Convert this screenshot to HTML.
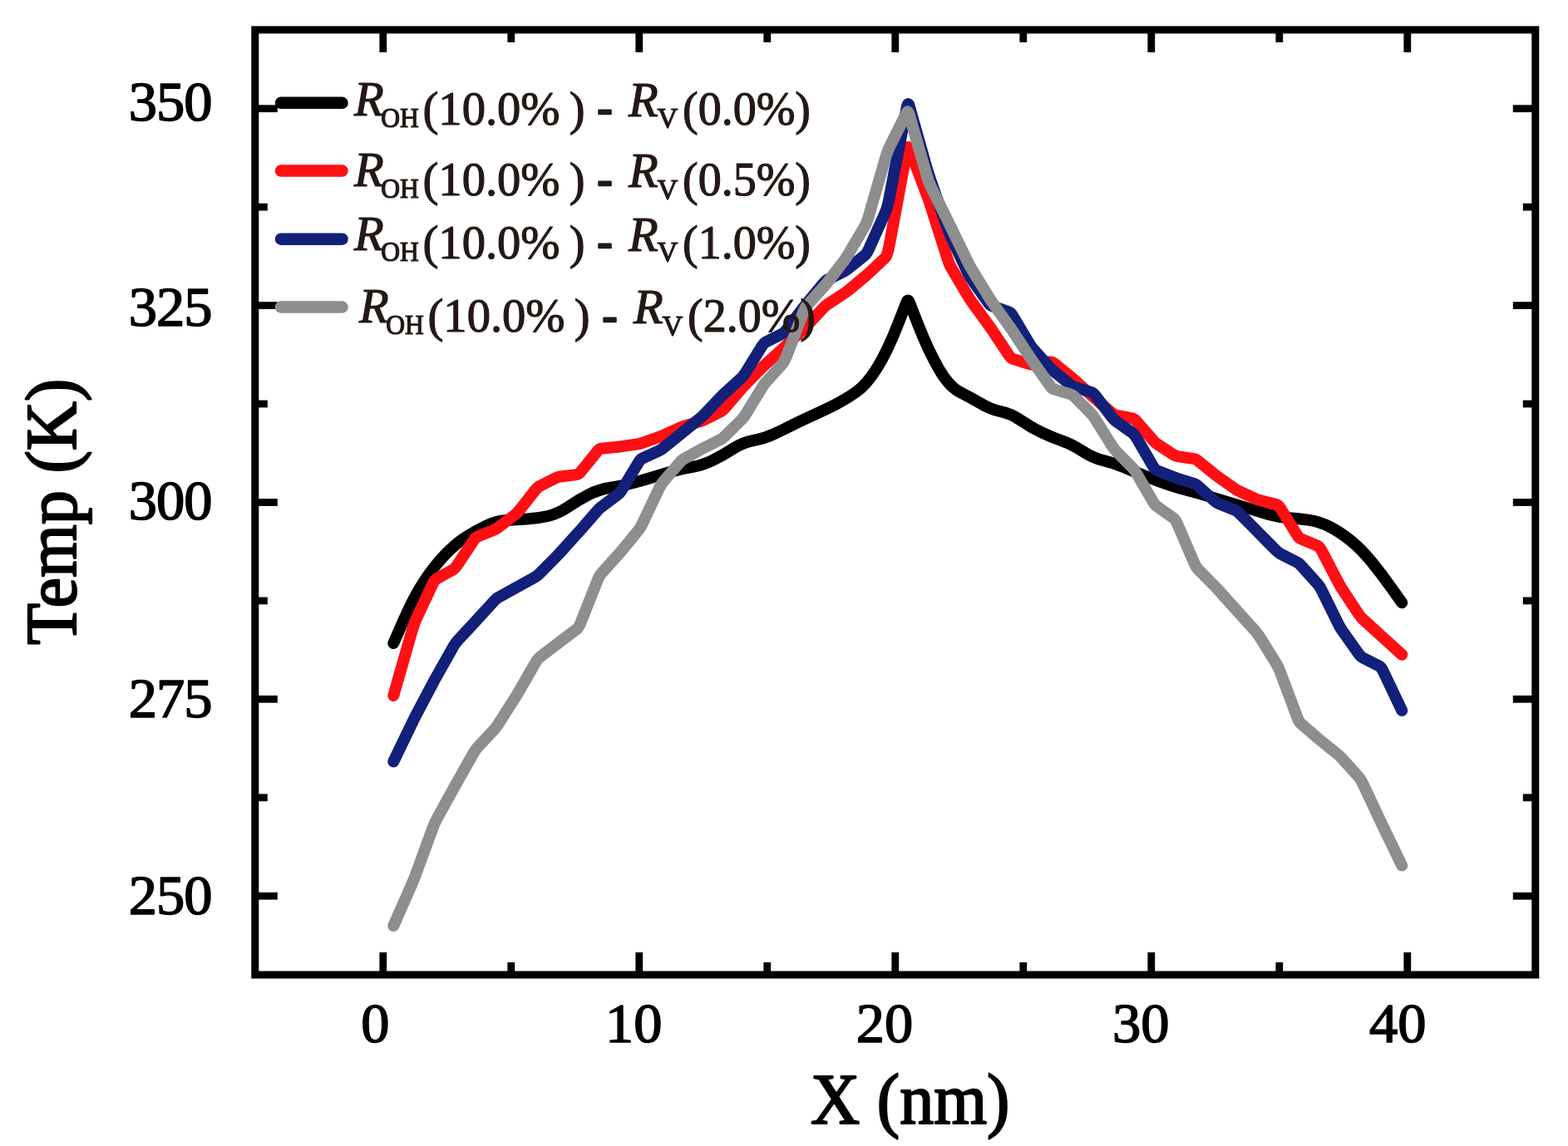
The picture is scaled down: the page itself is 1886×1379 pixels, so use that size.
<!DOCTYPE html>
<html lang="en"><head><meta charset="utf-8"><title>Temperature profile</title>
<style>
html,body{margin:0;padding:0;background:#fff;}
body{width:1886px;height:1379px;overflow:hidden;}
svg{display:block;filter:blur(0.75px);}
text{font-family:"Liberation Serif","DejaVu Serif",serif;stroke-linejoin:round;paint-order:stroke fill;}
.tick{font-size:68.5px;fill:#000;stroke:#000;stroke-width:1.6px;}
.axl{font-size:86px;fill:#000;stroke:#000;stroke-width:2.2px;}
.lg{fill:#231815;stroke:#231815;stroke-width:1.2px;font-size:58px;}
.it{font-style:italic;font-size:58.5px;}
.sub{font-size:34.5px;}
.hy{stroke-width:2.6px;font-size:54px;}
.c{fill:none;stroke-width:14;stroke-linejoin:round;stroke-linecap:round;}
</style></head><body>
<svg width="1886" height="1379" viewBox="0 0 1886 1379">
<rect x="0" y="0" width="1886" height="1379" fill="#fff"/>
<g stroke="#000" stroke-width="8.8" stroke-linecap="butt">
<line x1="460.8" y1="1173.0" x2="460.8" y2="1146.0"/>
<line x1="460.8" y1="35.9" x2="460.8" y2="62.9"/>
<line x1="614.8" y1="1173.0" x2="614.8" y2="1158.0"/>
<line x1="614.8" y1="35.9" x2="614.8" y2="50.9"/>
<line x1="768.8" y1="1173.0" x2="768.8" y2="1146.0"/>
<line x1="768.8" y1="35.9" x2="768.8" y2="62.9"/>
<line x1="922.8" y1="1173.0" x2="922.8" y2="1158.0"/>
<line x1="922.8" y1="35.9" x2="922.8" y2="50.9"/>
<line x1="1076.8" y1="1173.0" x2="1076.8" y2="1146.0"/>
<line x1="1076.8" y1="35.9" x2="1076.8" y2="62.9"/>
<line x1="1230.8" y1="1173.0" x2="1230.8" y2="1158.0"/>
<line x1="1230.8" y1="35.9" x2="1230.8" y2="50.9"/>
<line x1="1384.8" y1="1173.0" x2="1384.8" y2="1146.0"/>
<line x1="1384.8" y1="35.9" x2="1384.8" y2="62.9"/>
<line x1="1538.8" y1="1173.0" x2="1538.8" y2="1158.0"/>
<line x1="1538.8" y1="35.9" x2="1538.8" y2="50.9"/>
<line x1="1692.8" y1="1173.0" x2="1692.8" y2="1146.0"/>
<line x1="1692.8" y1="35.9" x2="1692.8" y2="62.9"/>
<line x1="306.8" y1="1078.2" x2="333.8" y2="1078.2"/>
<line x1="1846.8" y1="1078.2" x2="1819.8" y2="1078.2"/>
<line x1="306.8" y1="959.8" x2="321.8" y2="959.8"/>
<line x1="1846.8" y1="959.8" x2="1831.8" y2="959.8"/>
<line x1="306.8" y1="841.3" x2="333.8" y2="841.3"/>
<line x1="1846.8" y1="841.3" x2="1819.8" y2="841.3"/>
<line x1="306.8" y1="722.9" x2="321.8" y2="722.9"/>
<line x1="1846.8" y1="722.9" x2="1831.8" y2="722.9"/>
<line x1="306.8" y1="604.5" x2="333.8" y2="604.5"/>
<line x1="1846.8" y1="604.5" x2="1819.8" y2="604.5"/>
<line x1="306.8" y1="486.0" x2="321.8" y2="486.0"/>
<line x1="1846.8" y1="486.0" x2="1831.8" y2="486.0"/>
<line x1="306.8" y1="367.6" x2="333.8" y2="367.6"/>
<line x1="1846.8" y1="367.6" x2="1819.8" y2="367.6"/>
<line x1="306.8" y1="249.1" x2="321.8" y2="249.1"/>
<line x1="1846.8" y1="249.1" x2="1831.8" y2="249.1"/>
<line x1="306.8" y1="130.7" x2="333.8" y2="130.7"/>
<line x1="1846.8" y1="130.7" x2="1819.8" y2="130.7"/>
</g>
<rect x="306.8" y="35.9" width="1540.0" height="1137.1" fill="none" stroke="#000" stroke-width="9"/>
<g class="tick" text-anchor="end" letter-spacing="-1">
<text x="254.5" y="144.6">350</text>
<text x="254.5" y="392.4">325</text>
<text x="254.5" y="625.0">300</text>
<text x="254.5" y="862.6">275</text>
<text x="254.5" y="1099.6">250</text>
</g>
<g class="tick" text-anchor="middle">
<text x="451.3" y="1254">0</text>
<text x="762.3" y="1254">10</text>
<text x="1064.1" y="1254">20</text>
<text x="1372.2" y="1254">30</text>
<text x="1681.2" y="1254">40</text>
</g>
<text class="axl" text-anchor="middle" transform="translate(1094.7,1352) scale(0.955,1)">X (nm)</text>
<text class="axl" text-anchor="middle" transform="translate(90.5,615.8) rotate(-90) scale(0.955,1)">Temp (K)</text>
<path id="c0" class="c" stroke="#000000" d="M473.3 774.0L485.7 745.9Q498.1 717.7 510.4 699.2L510.4 699.2Q522.8 680.6 535.2 667.7L535.2 667.7Q547.6 654.7 559.9 646.7L559.9 646.7Q572.3 638.6 584.7 632.8L584.7 632.8Q597.1 626.9 609.4 626.0L609.4 626.0Q621.8 625.1 634.2 624.5L634.2 624.5Q646.6 623.9 658.9 621.0L658.9 621.0Q671.3 618.1 683.7 609.7L683.7 609.7Q696.1 601.3 708.5 595.0L708.5 595.0Q720.8 588.8 733.2 587.0L733.2 587.0Q745.6 585.1 758.0 582.0L758.0 582.0Q770.3 578.8 782.7 575.0L782.7 575.0Q795.1 571.3 807.5 567.5L807.5 567.5Q819.8 563.8 832.2 562.0L832.2 562.0Q844.6 560.1 857.0 554.0L857.0 554.0Q869.3 548.0 881.7 540.0L881.7 540.0Q894.1 532.0 906.5 530.0L906.5 530.0Q918.9 528.0 931.2 522.2L931.2 522.2Q943.6 516.4 956.0 510.1L956.0 510.1Q968.4 503.9 980.7 498.3L980.7 498.3Q993.1 492.7 1005.5 486.4L1005.5 486.4Q1017.9 480.2 1030.2 471.4L1030.2 471.4Q1042.6 462.6 1055.0 442.6L1055.0 442.6Q1067.4 422.6 1079.7 391.1L1090.6 363.3Q1092.1 359.5 1093.6 363.3L1104.5 391.1Q1116.9 422.6 1129.3 443.9L1129.3 443.9Q1141.6 465.1 1154.0 471.4L1154.0 471.4Q1166.4 477.6 1178.8 485.1L1178.8 485.1Q1191.1 492.7 1203.5 495.2L1203.5 495.2Q1215.9 497.7 1228.3 506.1L1228.3 506.1Q1240.6 514.5 1253.0 520.4L1253.0 520.4Q1265.4 526.3 1277.8 530.6L1277.8 530.6Q1290.1 535.0 1302.5 543.2L1302.5 543.2Q1314.9 551.4 1327.3 554.2L1327.3 554.2Q1339.7 557.0 1352.0 562.3L1352.0 562.3Q1364.4 567.6 1376.8 572.6L1376.8 572.6Q1389.2 577.6 1401.5 582.0L1401.5 582.0Q1413.9 586.3 1426.3 589.5L1426.3 589.5Q1438.7 592.6 1451.0 596.4L1451.0 596.4Q1463.4 600.1 1475.8 603.9L1475.8 603.9Q1488.2 607.6 1500.5 611.4L1500.5 611.4Q1512.9 615.1 1525.3 618.9L1525.3 618.9Q1537.7 622.6 1550.1 623.2L1550.1 623.2Q1562.4 623.9 1574.8 625.8L1574.8 625.8Q1587.2 627.6 1599.6 633.9L1599.6 633.9Q1611.9 640.1 1624.3 650.2L1624.3 650.2Q1636.7 660.2 1649.1 675.2L1649.1 675.2Q1661.4 690.2 1673.8 707.7L1686.2 725.2"/>
<path id="c1" class="c" stroke="#ff0f14" d="M473.3 837.0L495.6 759.0Q498.1 750.3 500.5 745.0L520.3 703.0Q522.8 697.7 525.3 696.3L545.1 685.3Q547.6 683.9 550.0 680.1L569.8 650.1Q572.3 646.4 574.8 645.4L594.6 637.4Q597.1 636.4 599.5 634.5L619.3 619.5Q621.8 617.6 624.3 614.5L644.1 589.4Q646.6 586.3 649.0 585.0L668.8 575.0Q671.3 573.8 673.8 573.5L693.6 571.1Q696.1 570.8 698.6 567.7L718.4 543.1Q720.8 540.0 723.3 539.8L743.1 537.8Q745.6 537.5 748.1 537.1L767.9 534.2Q770.3 533.8 772.8 532.9L792.6 525.9Q795.1 525.0 797.6 523.9L817.4 514.9Q819.8 513.8 822.3 513.0L842.1 507.1Q844.6 506.3 847.1 505.1L866.9 495.2Q869.3 494.0 871.8 491.1L891.6 468.0Q894.1 465.1 896.6 462.6L916.4 442.6Q918.9 440.1 921.3 437.9L941.1 419.9Q943.6 417.6 946.1 415.2L965.9 396.4Q968.4 394.0 970.8 391.4L990.6 370.2Q993.1 367.6 995.6 366.0L1015.4 353.0Q1017.9 351.4 1020.3 349.4L1040.1 333.0Q1042.6 331.0 1045.1 328.7L1064.9 310.0Q1067.4 307.7 1069.8 294.4L1090.6 182.5Q1092.1 174.5 1093.6 178.4L1114.4 233.4Q1116.9 240.0 1119.4 247.8L1139.2 310.2Q1141.6 318.0 1144.1 322.2L1163.9 355.8Q1166.4 360.0 1168.9 363.4L1188.7 390.6Q1191.1 394.0 1193.6 397.7L1213.4 427.3Q1215.9 431.0 1218.4 431.8L1238.2 438.2Q1240.6 439.0 1243.1 438.6L1262.9 435.5Q1265.4 435.1 1267.9 437.1L1287.7 453.1Q1290.1 455.1 1292.6 457.4L1312.4 475.4Q1314.9 477.6 1317.4 479.7L1337.2 496.9Q1339.7 499.0 1342.1 499.5L1361.9 503.3Q1364.4 503.8 1366.9 506.7L1386.7 529.6Q1389.2 532.5 1391.6 534.1L1411.4 547.2Q1413.9 548.8 1416.4 549.2L1436.2 552.2Q1438.7 552.6 1441.1 554.6L1460.9 570.6Q1463.4 572.6 1465.9 574.4L1485.7 588.4Q1488.2 590.1 1490.6 591.2L1510.5 600.3Q1512.9 601.4 1515.4 602.0L1535.2 607.0Q1537.7 607.6 1540.2 611.6L1560.0 643.6Q1562.4 647.6 1564.9 648.6L1584.7 656.7Q1587.2 657.7 1589.7 662.5L1609.5 700.5Q1611.9 705.2 1614.4 709.0L1634.2 739.0Q1636.7 742.7 1639.2 745.0L1659.0 763.0Q1661.4 765.3 1663.9 767.5L1686.2 787.8"/>
<path id="c2" class="c" stroke="#12207a" d="M473.3 916.4L495.6 870.1Q498.1 865.0 500.5 860.3L520.3 822.7Q522.8 818.0 525.3 813.6L545.1 778.4Q547.6 774.0 550.0 771.3L569.8 750.0Q572.3 747.3 574.8 744.6L594.6 722.9Q597.1 720.2 599.5 718.8L619.3 707.9Q621.8 706.5 624.3 705.1L644.1 694.1Q646.6 692.7 649.0 690.2L668.8 670.2Q671.3 667.7 673.8 664.9L693.6 642.9Q696.1 640.1 698.6 637.3L718.4 614.6Q720.8 611.8 723.3 610.0L743.1 595.2Q745.6 593.4 748.1 589.3L767.9 556.7Q770.3 552.6 772.8 551.5L792.6 542.4Q795.1 541.3 797.6 539.3L817.4 523.3Q819.8 521.3 822.3 519.3L842.1 503.3Q844.6 501.3 847.1 498.7L866.9 477.7Q869.3 475.1 871.8 472.9L891.6 454.9Q894.1 452.6 896.6 448.6L916.4 416.6Q918.9 412.6 921.3 411.4L941.1 401.4Q943.6 400.1 946.1 396.8L965.9 370.8Q968.4 367.5 970.8 364.5L990.6 340.6Q993.1 337.6 995.6 336.4L1015.4 326.4Q1017.9 325.2 1020.3 323.2L1040.1 307.2Q1042.6 305.2 1045.1 299.7L1064.9 255.5Q1067.4 250.0 1069.8 237.2L1090.6 129.7Q1092.1 122.0 1093.6 127.3L1114.4 201.2Q1116.9 210.0 1119.4 217.0L1139.2 273.0Q1141.6 280.0 1144.1 285.3L1163.9 327.7Q1166.4 333.0 1168.9 336.4L1188.7 364.1Q1191.1 367.5 1193.6 368.4L1213.4 375.4Q1215.9 376.3 1218.4 380.4L1238.2 413.5Q1240.6 417.6 1243.1 420.4L1262.9 442.4Q1265.4 445.1 1267.9 447.1L1287.7 463.1Q1290.1 465.1 1292.6 465.9L1312.4 471.9Q1314.9 472.6 1317.4 475.8L1337.2 501.8Q1339.7 505.0 1342.1 506.8L1361.9 520.8Q1364.4 522.5 1366.9 526.8L1386.7 560.8Q1389.2 565.1 1391.6 566.1L1411.4 574.1Q1413.9 575.1 1416.4 575.9L1436.2 581.9Q1438.7 582.6 1441.1 584.9L1460.9 602.9Q1463.4 605.1 1465.9 606.1L1485.7 614.1Q1488.2 615.1 1490.6 617.6L1510.5 637.6Q1512.9 640.1 1515.4 642.6L1535.2 662.7Q1537.7 665.2 1540.2 666.5L1560.0 676.5Q1562.4 677.7 1564.9 680.5L1584.7 702.5Q1587.2 705.2 1589.7 710.2L1609.5 750.3Q1611.9 755.3 1614.4 758.8L1634.2 786.8Q1636.7 790.3 1639.2 791.5L1659.0 801.5Q1661.4 802.8 1663.9 808.0L1686.2 855.0"/>
<path id="c3" class="c" stroke="#8e8e8e" d="M473.3 1114.1L495.6 1063.4Q498.1 1057.8 500.5 1051.0L520.3 997.0Q522.8 990.2 525.3 985.7L545.1 949.7Q547.6 945.2 550.0 940.8L569.8 905.8Q572.3 901.4 574.8 898.8L594.6 877.7Q597.1 875.1 599.5 871.2L619.3 839.9Q621.8 836.0 624.3 831.7L644.1 797.3Q646.6 793.0 649.0 791.1L668.8 775.9Q671.3 774.0 673.8 772.1L693.6 757.2Q696.1 755.3 698.6 749.0L718.4 699.0Q720.8 692.7 723.3 690.0L743.1 668.0Q745.6 665.2 748.1 662.2L767.9 638.1Q770.3 635.1 772.8 629.9L792.6 587.9Q795.1 582.6 797.6 579.7L817.4 556.7Q819.8 553.8 822.3 552.4L842.1 541.4Q844.6 540.0 847.1 538.8L866.9 528.8Q869.3 527.5 871.8 525.0L891.6 505.4Q894.1 503.0 896.6 499.0L916.4 466.6Q918.9 462.6 921.3 459.9L941.1 437.9Q943.6 435.1 946.1 428.6L965.9 376.5Q968.4 370.0 970.8 367.3L990.6 345.3Q993.1 342.6 995.6 339.4L1015.4 313.4Q1017.9 310.2 1020.3 306.0L1040.1 272.2Q1042.6 268.0 1045.1 259.4L1064.9 190.6Q1067.4 182.0 1069.8 177.1L1090.6 135.5Q1092.1 132.5 1093.6 137.7L1114.4 210.3Q1116.9 219.0 1119.4 224.0L1139.2 264.0Q1141.6 269.0 1144.1 274.1L1163.9 314.9Q1166.4 320.0 1168.9 324.1L1188.7 356.4Q1191.1 360.5 1193.6 364.0L1213.4 391.6Q1215.9 395.1 1218.4 398.9L1238.2 428.9Q1240.6 432.6 1243.1 436.1L1262.9 464.1Q1265.4 467.6 1267.9 468.4L1287.7 474.4Q1290.1 475.1 1292.6 477.6L1312.4 497.7Q1314.9 500.2 1317.4 504.2L1337.2 536.0Q1339.7 540.0 1342.1 542.5L1361.9 562.6Q1364.4 565.1 1366.9 569.4L1386.7 603.4Q1389.2 607.6 1391.6 609.4L1411.4 623.4Q1413.9 625.1 1416.4 630.9L1436.2 676.9Q1438.7 682.7 1441.1 685.2L1460.9 705.2Q1463.4 707.7 1465.9 710.5L1485.7 732.5Q1488.2 735.2 1490.6 738.0L1510.5 760.0Q1512.9 762.8 1515.4 766.8L1535.2 798.8Q1537.7 802.8 1540.2 809.4L1560.0 862.2Q1562.4 868.8 1564.9 870.9L1584.7 888.0Q1587.2 890.1 1589.7 892.1L1609.5 908.1Q1611.9 910.1 1614.4 912.9L1634.2 934.9Q1636.7 937.6 1639.2 942.9L1659.0 984.9Q1661.4 990.2 1663.9 995.3L1686.2 1041.5"/>
<g class="c" style="stroke-width:14.5">
<line x1="338" y1="123.8" x2="411.5" y2="123.8" stroke="#000000"/>
<line x1="338" y1="205.6" x2="411.5" y2="205.6" stroke="#ff0f14"/>
<line x1="338" y1="287.7" x2="411.5" y2="287.7" stroke="#12207a"/>
<line x1="338" y1="369.6" x2="411.5" y2="369.6" stroke="#8e8e8e"/>
</g>
<g class="lg">
<text id="lab0"><tspan class="it" x="426.0" y="138.8">R</tspan><tspan class="sub" x="458.3" y="153.0" textLength="45.6" lengthAdjust="spacingAndGlyphs">OH</tspan><tspan x="508.5" y="149.6" textLength="165" lengthAdjust="spacingAndGlyphs">(10.0%</tspan><tspan x="670.5" y="149.6" textLength="33" lengthAdjust="spacingAndGlyphs"> )</tspan><tspan class="hy" x="705.0" y="148.4"> - </tspan><tspan class="it" x="756.0" y="139.8">R</tspan><tspan class="sub" x="790.5" y="153.3">V</tspan><tspan x="821.0" y="149.6" textLength="154" lengthAdjust="spacingAndGlyphs">(0.0%)</tspan></text>
<text id="lab1"><tspan class="it" x="426.0" y="224.2">R</tspan><tspan class="sub" x="458.3" y="238.3" textLength="45.6" lengthAdjust="spacingAndGlyphs">OH</tspan><tspan x="508.5" y="234.9" textLength="165" lengthAdjust="spacingAndGlyphs">(10.0%</tspan><tspan x="670.5" y="234.9" textLength="33" lengthAdjust="spacingAndGlyphs"> )</tspan><tspan class="hy" x="705.0" y="233.7"> - </tspan><tspan class="it" x="756.0" y="225.2">R</tspan><tspan class="sub" x="790.5" y="238.6">V</tspan><tspan x="821.0" y="234.9" textLength="154" lengthAdjust="spacingAndGlyphs">(0.5%)</tspan></text>
<text id="lab2"><tspan class="it" x="426.0" y="301.2">R</tspan><tspan class="sub" x="458.3" y="313.9" textLength="45.6" lengthAdjust="spacingAndGlyphs">OH</tspan><tspan x="508.5" y="310.5" textLength="165" lengthAdjust="spacingAndGlyphs">(10.0%</tspan><tspan x="670.5" y="310.5" textLength="33" lengthAdjust="spacingAndGlyphs"> )</tspan><tspan class="hy" x="705.0" y="309.3"> - </tspan><tspan class="it" x="756.0" y="302.2">R</tspan><tspan class="sub" x="790.5" y="314.2">V</tspan><tspan x="821.0" y="310.5" textLength="154" lengthAdjust="spacingAndGlyphs">(1.0%)</tspan></text>
<text id="lab3"><tspan class="it" x="432.0" y="388.3">R</tspan><tspan class="sub" x="464.3" y="402.3" textLength="45.6" lengthAdjust="spacingAndGlyphs">OH</tspan><tspan x="514.5" y="398.9" textLength="165" lengthAdjust="spacingAndGlyphs">(10.0%</tspan><tspan x="676.5" y="398.9" textLength="33" lengthAdjust="spacingAndGlyphs"> )</tspan><tspan class="hy" x="711.0" y="397.7"> - </tspan><tspan class="it" x="762.0" y="389.3">R</tspan><tspan class="sub" x="796.5" y="402.6">V</tspan><tspan x="827.0" y="398.9" textLength="154" lengthAdjust="spacingAndGlyphs">(2.0%)</tspan></text>
</g>
</svg>
</body></html>
